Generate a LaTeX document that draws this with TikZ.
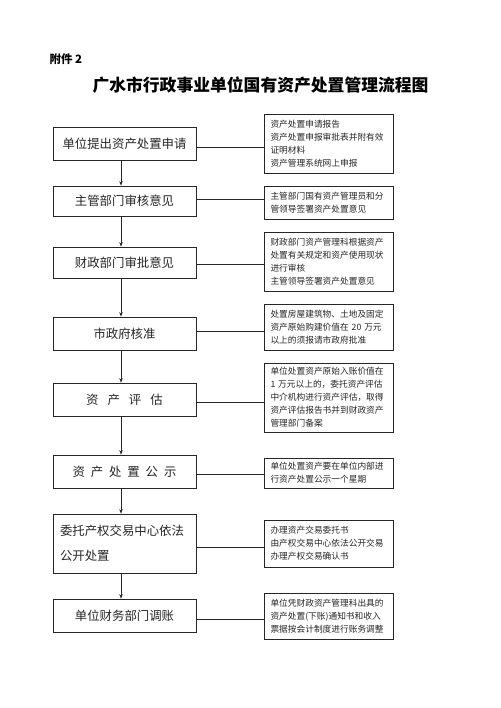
\documentclass[tikz,border=0pt]{standalone}
\usepackage{fontspec}
\setmainfont{Noto Sans CJK SC}
\usetikzlibrary{arrows.meta}
\tikzset{
  lbox/.style={draw=black!85, line width=0.7pt, minimum width=143pt, inner sep=0pt,
    font=\fontsize{12.4}{14}\selectfont, text=black!85},
  rbox/.style={draw=black!85, line width=0.7pt, minimum width=129pt, text width=116pt,
    inner xsep=6.5pt, inner ysep=0pt, align=left,
    font=\fontsize{8.7}{13}\selectfont, text=black!85},
  link/.style={draw=black!85, line width=0.7pt},
  flow/.style={draw=black!85, line width=0.7pt, -{Stealth[length=4.5pt,width=3.5pt]}}
}
\begin{document}
\begin{tikzpicture}[x=1pt,y=-1pt]
\useasboundingbox[fill=white] (0,0) rectangle (500,708);
\node[anchor=west, font=\fontsize{11.5}{13}\selectfont\bfseries] (att) at (46,59) {附件 2};
\node[font=\fontsize{16.8}{19}\selectfont\bfseries] (title) at (260.5,85) {广水市行政事业单位国有资产处置管理流程图};

\node[lbox, minimum height=33pt] (L1) at (124.5,143.5) {单位提出资产处置申请};
\node[lbox, minimum height=30pt] (L2) at (124.5,201) {主管部门审核意见};
\node[lbox, minimum height=31pt] (L3) at (124.5,262.5) {财政部门审批意见};
\node[lbox, minimum height=33pt] (L4) at (124.5,333.5) {市政府核准};
\node[lbox, minimum height=33pt] (L5) at (124.5,399.5) {资\hspace{9pt}产\hspace{9pt}评\hspace{9pt}估};
\node[lbox, minimum height=33pt] (L6) at (124.5,471.5) {资\hspace{5.9pt}产\hspace{5.9pt}处\hspace{5.9pt}置\hspace{5.9pt}公\hspace{5.9pt}示};
\node[lbox, minimum height=59pt, text width=129pt, align=left, inner xsep=7pt] (L7) at (124.5,543.5) {委托产权交易中心依法\\[11pt]公开处置};
\node[lbox, minimum height=33pt] (L8) at (124.5,615.5) {单位财务部门调账};

\node[rbox, minimum height=59pt] (R1) at (328.5,143.5) {资产处置申请报告\\资产处置申报审批表并附有效\\证明材料\\资产管理系统网上申报};
\node[rbox, minimum height=33pt] (R2) at (328.5,202.5) {主管部门国有资产管理员和分\\管领导签署资产处置意见};
\node[rbox, minimum height=59pt] (R3) at (328.5,261.5) {财政部门资产管理科根据资产\\处置有关规定和资产使用现状\\进行审核\\主管领导签署资产处置意见};
\node[rbox, minimum height=46pt] (R4) at (328.5,327) {处置房屋建筑物、土地及固定\\资产原始购建价值在 20 万元\\以上的须报请市政府批准};
\node[rbox, minimum height=69pt] (R5) at (328.5,397.5) {单位处置资产原始入账价值在\\1 万元以上的，委托资产评估\\中介机构进行资产评估，取得\\资产评估报告书并到财政资产\\管理部门备案};
\node[rbox, minimum height=30pt] (R6) at (328.5,473) {单位处置资产要在单位内部进\\行资产处置公示一个星期};
\node[rbox, minimum height=47pt] (R7) at (328.5,543.5) {办理资产交易委托书\\由产权交易中心依法公开交易\\办理产权交易确认书};
\node[rbox, minimum height=46pt] (R8) at (328.5,616) {单位凭财政资产管理科出具的\\资产处置(下账)通知书和收入\\票据按会计制度进行账务调整};

\foreach \a/\b/\s in {L1/R1/-3.5, L2/R2/2, L3/R3/-1.5, L4/R4/2.5, L5/R5/-2.5, L6/R6/-2.5, L7/R7/-3.5, L8/R8/-3.5}
  \draw[link] ([yshift=\s pt]\a.east) -- ([yshift=\s pt]\a.east -| \b.west);

\foreach \a/\b in {L1/L2, L2/L3, L3/L4, L4/L5, L5/L6, L6/L7, L7/L8}
  \draw[flow] ([xshift=-3.5pt]\a.south) -- ([xshift=-3.5pt]\b.north);
\end{tikzpicture}
\end{document}
